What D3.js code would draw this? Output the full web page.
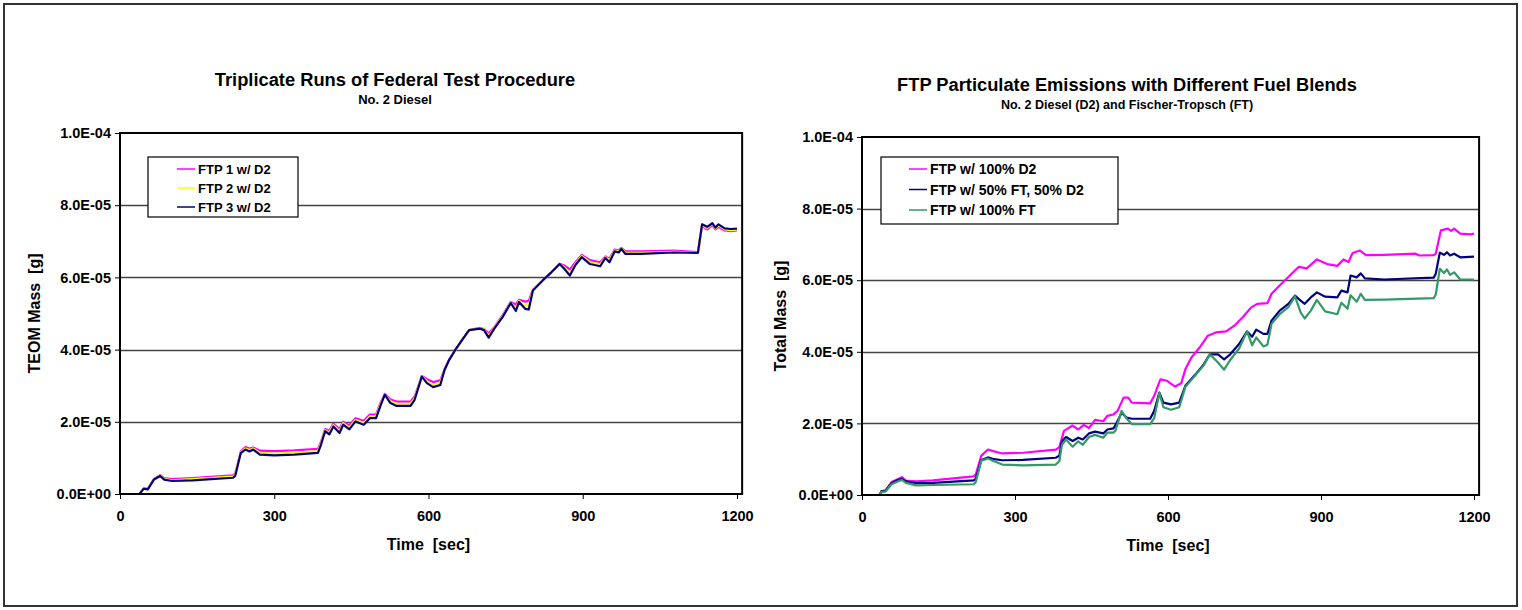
<!DOCTYPE html>
<html><head><meta charset="utf-8">
<script src="https://cdn.jsdelivr.net/npm/d3@7"></script>
<style>
body{margin:0;background:#fff}
svg text{font-family:"Liberation Sans",Arial,sans-serif;font-weight:bold;fill:#000;white-space:pre}
</style>
</head><body>
<svg id="c" width="1522" height="610"></svg>
<script>
// ---------- DATA (mass in units of 1e-5 g, time in sec) ----------
const xTicks = [0, 300, 600, 900, 1200];
const yTicks = [0, 2e-5, 4e-5, 6e-5, 8e-5, 1e-4];
const yTickLabels = ["0.0E+00", "2.0E-05", "4.0E-05", "6.0E-05", "8.0E-05", "1.0E-04"];

const leftNames = ["FTP 1 w/ D2", "FTP 2 w/ D2", "FTP 3 w/ D2"];
const rightNames = ["FTP w/ 100% D2", "FTP w/ 50% FT, 50% D2", "FTP w/ 100% FT"];

const ftp1 = [[0,0],[38,0],[46,0.15],[54,0.14],[66,0.42],[78,0.52],[86,0.44],[101,0.41],[141,0.44],[220,0.52],[224,0.56],[235,1.18],[244,1.30],[252,1.26],[259,1.29],[272,1.20],[300,1.19],[339,1.21],[385,1.25],[391,1.45],[399,1.80],[407,1.75],[415,1.95],[427,1.80],[434,2.00],[446,1.90],[458,2.10],[474,2.03],[486,2.20],[498,2.20],[506,2.50],[515,2.77],[526,2.62],[538,2.56],[565,2.56],[573,2.70],[587,3.27],[597,3.18],[609,3.10],[623,3.15],[631,3.45],[640,3.72],[652,3.98],[665,4.25],[679,4.54],[700,4.60],[708,4.57],[717,4.45],[728,4.62],[744,4.95],[760,5.32],[770,5.25],[776,5.38],[788,5.33],[795,5.35],[803,5.66],[823,5.93],[839,6.14],[855,6.38],[864,6.33],[875,6.22],[886,6.42],[898,6.62],[914,6.48],[934,6.42],[944,6.58],[952,6.52],[962,6.77],[970,6.75],[975,6.82],[983,6.72],[1013,6.72],[1077,6.74],[1124,6.70],[1132,7.42],[1142,7.33],[1152,7.45],[1158,7.33],[1164,7.40],[1176,7.30],[1188,7.28],[1200,7.30]];

const ftp2 = [[0,0],[38,0],[46,0.15],[54,0.13],[66,0.41],[78,0.51],[86,0.42],[101,0.38],[141,0.41],[220,0.48],[224,0.53],[235,1.16],[244,1.26],[252,1.22],[259,1.26],[272,1.14],[300,1.12],[339,1.15],[385,1.19],[391,1.41],[399,1.77],[407,1.70],[415,1.91],[427,1.74],[434,1.96],[446,1.84],[458,2.05],[474,1.97],[486,2.15],[498,2.15],[506,2.46],[515,2.76],[526,2.57],[538,2.50],[565,2.50],[573,2.65],[587,3.26],[597,3.12],[609,3.03],[623,3.08],[631,3.44],[640,3.71],[652,3.98],[665,4.25],[679,4.54],[700,4.59],[708,4.56],[717,4.38],[728,4.60],[744,4.92],[760,5.30],[770,5.14],[776,5.35],[788,5.22],[795,5.22],[803,5.65],[823,5.93],[839,6.14],[855,6.37],[864,6.28],[875,6.10],[886,6.38],[898,6.59],[914,6.42],[934,6.36],[944,6.56],[952,6.47],[962,6.74],[970,6.72],[975,6.80],[983,6.68],[1013,6.68],[1077,6.71],[1124,6.69],[1132,7.45],[1142,7.37],[1152,7.48],[1158,7.36],[1164,7.44],[1176,7.33],[1188,7.31],[1200,7.32]];

const ftp3 = [[0,0],[38,0],[46,0.15],[54,0.13],[66,0.40],[78,0.50],[86,0.40],[101,0.36],[141,0.38],[220,0.45],[224,0.50],[235,1.14],[244,1.23],[252,1.18],[259,1.23],[272,1.09],[300,1.07],[339,1.09],[385,1.14],[391,1.37],[399,1.74],[407,1.65],[415,1.87],[427,1.69],[434,1.92],[446,1.79],[458,2.01],[474,1.92],[486,2.10],[498,2.10],[506,2.42],[515,2.75],[526,2.52],[538,2.44],[565,2.44],[573,2.61],[587,3.25],[597,3.07],[609,2.96],[623,3.02],[631,3.43],[640,3.71],[652,3.99],[665,4.26],[679,4.54],[700,4.58],[708,4.54],[717,4.33],[728,4.58],[744,4.90],[760,5.29],[770,5.07],[776,5.32],[788,5.13],[795,5.11],[803,5.64],[823,5.93],[839,6.14],[855,6.37],[864,6.24],[875,6.05],[886,6.35],[898,6.56],[914,6.37],[934,6.31],[944,6.54],[952,6.42],[962,6.72],[970,6.69],[975,6.79],[983,6.65],[1013,6.65],[1077,6.69],[1124,6.68],[1132,7.47],[1142,7.40],[1152,7.50],[1158,7.38],[1164,7.47],[1176,7.36],[1188,7.34],[1200,7.35]];

const d2Full = [[0,0],[34,0],[38,0.10],[46,0.12],[58,0.36],[70,0.44],[78,0.50],[86,0.40],[106,0.38],[139,0.41],[219,0.52],[223,0.57],[234,1.10],[247,1.27],[259,1.22],[275,1.16],[316,1.18],[380,1.27],[387,1.34],[396,1.79],[413,1.94],[424,1.83],[435,1.96],[445,1.87],[457,2.10],[473,2.06],[481,2.21],[493,2.25],[501,2.35],[513,2.72],[522,2.72],[529,2.58],[565,2.56],[573,2.77],[585,3.23],[598,3.19],[614,3.03],[626,3.12],[634,3.51],[646,3.84],[662,4.12],[678,4.45],[694,4.54],[714,4.57],[730,4.73],[746,4.96],[763,5.24],[775,5.34],[795,5.36],[803,5.62],[819,5.85],[836,6.09],[856,6.37],[872,6.33],[892,6.58],[912,6.45],[932,6.40],[944,6.58],[954,6.51],[962,6.76],[976,6.83],[988,6.70],[1024,6.71],[1085,6.74],[1093,6.69],[1121,6.70],[1125,6.74],[1135,7.39],[1149,7.44],[1155,7.38],[1161,7.44],[1173,7.30],[1194,7.28],[1200,7.30]];

const blend50 = [[0,0],[34,0],[38,0.10],[46,0.12],[58,0.33],[70,0.42],[78,0.45],[86,0.38],[106,0.33],[139,0.34],[219,0.41],[223,0.45],[234,0.98],[247,1.05],[259,1.00],[275,0.97],[316,0.98],[380,1.04],[387,1.10],[392,1.50],[400,1.62],[413,1.51],[424,1.60],[433,1.55],[445,1.72],[457,1.77],[473,1.72],[481,1.83],[493,1.86],[497,1.95],[509,2.30],[519,2.16],[529,2.13],[565,2.13],[573,2.35],[583,2.86],[591,2.58],[606,2.53],[622,2.58],[634,3.05],[654,3.37],[670,3.65],[682,3.93],[698,3.93],[710,3.79],[722,3.93],[739,4.21],[755,4.57],[765,4.42],[773,4.62],[787,4.50],[795,4.50],[803,4.87],[819,5.15],[836,5.34],[849,5.57],[860,5.43],[868,5.34],[880,5.52],[892,5.66],[908,5.54],[932,5.52],[940,5.71],[952,5.66],[958,6.13],[970,6.08],[978,6.19],[986,6.05],[1024,6.02],[1121,6.07],[1125,6.18],[1133,6.77],[1141,6.71],[1147,6.78],[1153,6.69],[1161,6.74],[1173,6.64],[1200,6.66]];

const ftFull = [[0,0],[34,0],[38,0.08],[46,0.10],[58,0.30],[70,0.38],[78,0.42],[86,0.34],[106,0.27],[139,0.28],[219,0.30],[223,0.36],[234,0.96],[247,1.02],[259,0.94],[275,0.85],[316,0.83],[380,0.85],[387,0.95],[392,1.40],[400,1.55],[413,1.35],[424,1.50],[433,1.40],[445,1.62],[457,1.68],[473,1.60],[481,1.74],[493,1.74],[497,1.80],[509,2.35],[519,2.13],[529,1.98],[565,1.98],[573,2.15],[583,2.85],[591,2.45],[606,2.38],[622,2.45],[634,3.02],[654,3.35],[670,3.62],[682,3.93],[698,3.70],[710,3.50],[722,3.77],[739,4.08],[755,4.57],[765,4.18],[773,4.40],[787,4.15],[795,4.20],[803,4.78],[819,5.05],[836,5.25],[849,5.55],[860,5.10],[868,4.93],[880,5.15],[892,5.45],[908,5.13],[932,5.05],[940,5.37],[952,5.20],[958,5.58],[970,5.40],[978,5.62],[986,5.45],[1024,5.46],[1121,5.50],[1125,5.60],[1133,6.32],[1141,6.20],[1147,6.30],[1153,6.15],[1161,6.22],[1173,6.02],[1200,6.02]];

// ---------- LAYOUT ----------
const svg = d3.select("#c");
svg.append("rect").attr("x",4).attr("y",4).attr("width",1513).attr("height",602)
  .attr("fill","#fff").attr("stroke","#333").attr("stroke-width",2);

function drawChart(cfg){
  const g = svg.append("g");
  const x = d3.scaleLinear().domain([0,1210]).range([cfg.x0, cfg.x0 + cfg.w1200*1210/1200]);
  const y = d3.scaleLinear().domain([0,1e-4]).range([cfg.y0, cfg.y1]);
  g.append("rect").attr("x",x(0)).attr("y",y(1e-4)).attr("width",x(1210)-x(0)).attr("height",y(0)-y(1e-4))
    .attr("fill","#fff");
  g.append("g").selectAll("line").data(yTicks.slice(1,5)).join("line")
    .attr("x1",x(0)).attr("x2",x(1210)).attr("y1",d=>Math.round(y(d))+0.5).attr("y2",d=>Math.round(y(d))+0.5)
    .attr("stroke","#444").attr("stroke-width",1.3);
  const ya = g.append("g").attr("transform",`translate(${x(0)},0)`)
    .call(d3.axisLeft(y).tickValues(yTicks).tickFormat((d,i)=>yTickLabels[i]).tickSize(5).tickPadding(4));
  ya.select(".domain").remove();
  ya.attr("font-family",null).attr("font-size",null);
  ya.selectAll("text").attr("font-size",14.5);
  ya.selectAll("line").attr("stroke","#000");
  const xa = g.append("g").attr("transform",`translate(0,${y(0)})`)
    .call(d3.axisBottom(x).tickValues(xTicks).tickFormat(d3.format("d")).tickSize(5).tickPadding(12));
  xa.select(".domain").remove();
  xa.attr("font-family",null).attr("font-size",null);
  xa.selectAll("text").attr("font-size",14.5);
  xa.selectAll("line").attr("stroke","#000");
  const line = d3.line().x(d=>x(d[0])).y(d=>y(d[1]*1e-5));
  cfg.series.forEach((s,i)=>{
    g.append("path").datum(s).attr("d",line).attr("fill","none")
      .attr("stroke",cfg.colors[i]).attr("stroke-width",2.2).attr("stroke-linejoin","round");
  });
  g.append("rect").attr("x",x(0)).attr("y",y(1e-4)).attr("width",x(1210)-x(0)).attr("height",y(0)-y(1e-4))
    .attr("fill","none").attr("stroke","#000").attr("stroke-width",2);
  const L = cfg.legend;
  g.append("rect").attr("x",L.x).attr("y",L.y).attr("width",L.w).attr("height",L.h)
    .attr("fill","#fff").attr("stroke","#000").attr("stroke-width",1.2);
  cfg.names.forEach((n,i)=>{
    const yy = L.y + L.first + i*L.step;
    g.append("line").attr("x1",L.lx).attr("x2",L.lx+18).attr("y1",yy).attr("y2",yy)
      .attr("stroke",cfg.legendColors[i]).attr("stroke-width",1.5);
    g.append("text").attr("x",L.lx+21).attr("y",yy+L.fs*0.37).attr("font-size",L.fs).text(n);
  });
  g.append("text").attr("x",cfg.tx).attr("y",cfg.ty).attr("text-anchor","middle").attr("font-size",18.3).text(cfg.title);
  g.append("text").attr("x",cfg.tx).attr("y",cfg.ty+18).attr("text-anchor","middle").attr("font-size",cfg.subFs).text(cfg.subtitle);
  g.append("text").attr("x",x(600)).attr("y",cfg.y0+56).attr("text-anchor","middle").attr("font-size",16).text("Time  [sec]");
  g.append("text").attr("transform",`translate(${cfg.yTitleX},${(cfg.y0+cfg.y1)/2}) rotate(-90)`)
    .attr("text-anchor","middle").attr("font-size",16).text(cfg.yTitle);
}

drawChart({
  x0:120, w1200:617, y0:494, y1:133,
  series:[ftp1,ftp2,ftp3], names:leftNames,
  colors:["#FF00FF","#FFFF00","#000080"], legendColors:["#FF00FF","#FFFF00","#000080"],
  legend:{x:148,y:157,w:150,h:60,lx:177,first:12,step:19,fs:13},
  title:"Triplicate Runs of Federal Test Procedure", subtitle:"No. 2 Diesel", subFs:13, tx:395, ty:86,
  yTitle:"TEOM Mass  [g]", yTitleX:40
});
drawChart({
  x0:862, w1200:612, y0:495, y1:137,
  series:[d2Full,blend50,ftFull], names:rightNames,
  colors:["#FF00FF","#000080","#339966"], legendColors:["#FF00FF","#000080","#339966"],
  legend:{x:881,y:157,w:237,h:67,lx:909,first:12,step:20.5,fs:14},
  title:"FTP Particulate Emissions with Different Fuel Blends", subtitle:"No. 2 Diesel (D2) and Fischer-Tropsch (FT)", subFs:12.5, tx:1127, ty:91,
  yTitle:"Total Mass  [g]", yTitleX:786
});
</script>
</body></html>
